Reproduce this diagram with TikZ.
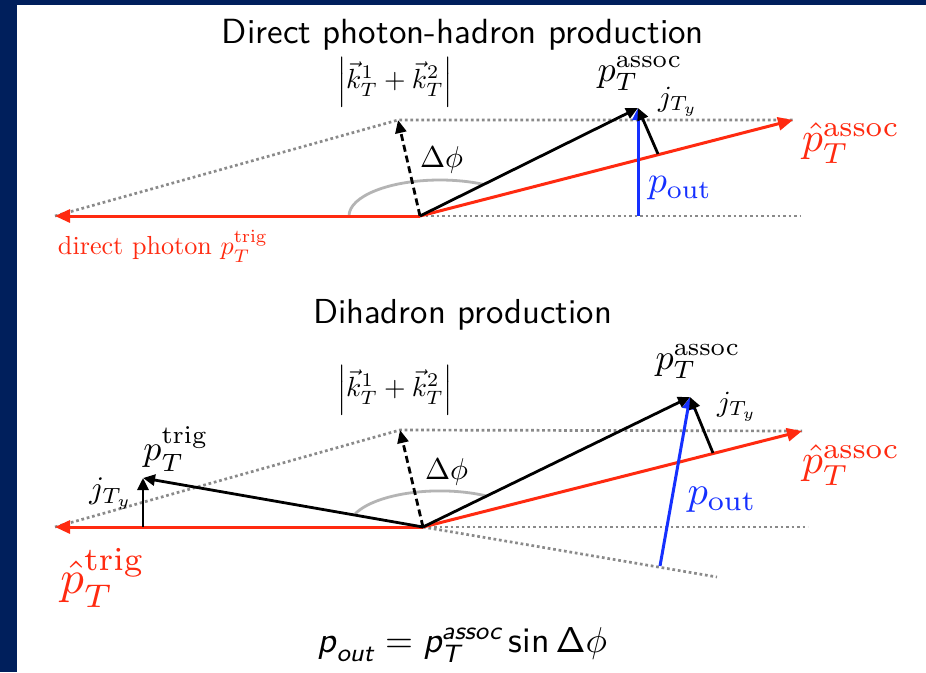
\documentclass[tikz,border=0pt]{standalone}
\usepackage{amsmath}
\usepackage{graphicx}
\usetikzlibrary{arrows.meta}
\definecolor{navy}{HTML}{001F5C}
\definecolor{pred}{HTML}{FF2A10}
\definecolor{pblue}{HTML}{1530FF}
\definecolor{dotgray}{HTML}{8A8A8A}
\definecolor{arcgray}{HTML}{B4B4B4}
\newcommand{\fitw}[2]{\resizebox{#1pt}{!}{#2}}
\begin{document}
\begin{tikzpicture}[x=1pt,y=-1pt,
  redarrow/.style={pred, line width=3pt, -{Triangle[length=15pt,width=13pt]}},
  blkarrow/.style={black, line width=2.8pt, -{Triangle[length=12pt,width=11pt]}},
  bluearrow/.style={pblue, line width=3pt, -{Triangle[length=12pt,width=11pt]}},
  dasharrow/.style={black, line width=2.8pt, dash pattern=on 7pt off 4pt, -{Triangle[length=13pt,width=11pt]}},
  dotline/.style={dotgray, line width=2.7pt, dash pattern=on 2.7pt off 2.8pt},
  arcline/.style={arcgray, line width=2.8pt},
  lab/.style={inner sep=0pt},
]
\fill[navy] (0,0) rectangle (926,672);
\fill[white] (17,5) rectangle (926,672);
\useasboundingbox (0,0) rectangle (926,672);

% ---------------- top diagram ----------------
\coordinate (O1) at (420,216);
\coordinate (trigTip1) at (55,216);
\coordinate (assocTip1) at (793,120);
\coordinate (kTop1) at (398,120);
\coordinate (hR1) at (800,216);
\coordinate (pA1) at (638,108);
\coordinate (pOutB1) at (638,216);
\coordinate (jB1) at (658,154);
\coordinate (arcS1) at (349,216);

\draw[dotline] (trigTip1) -- (kTop1) -- (assocTip1);
\draw[dotline] (O1) -- (hR1);
\draw[arcline] (arcS1) arc[start angle=180, end angle=298, x radius=91, y radius=36];
\draw[redarrow] (O1) -- (trigTip1);
\draw[redarrow] (O1) -- (assocTip1);
\draw[bluearrow] (pOutB1) -- (pA1);
\draw[dasharrow] (O1) -- (kTop1);
\draw[blkarrow] (O1) -- (pA1);
\draw[blkarrow] (jB1) -- (pA1);

\node[lab, anchor=base] (title1) at (463,43) {\fitw{482}{\sffamily Direct photon-hadron production}};
\node[lab] (k1) at (395,82) {\fitw{116}{$\left|\vec{k}_T^1+\vec{k}_T^2\right|$}};
\node[lab] (dphi1) at (441.5,160) {\fitw{43}{$\Delta\phi$}};
\node[lab] (pAlab1) at (640,74) {\fitw{85}{$p_T^{\mathrm{assoc}}$}};
\node[lab] (j1) at (678,102) {\fitw{40}{$j_{T_y}$}};
\node[lab, text=pred] (hatA1) at (851,143) {\fitw{98}{$\hat{p}_T^{\mathrm{assoc}}$}};
\node[lab, text=pblue] (pout1) at (680,188) {\fitw{64}{$p_{\mathrm{out}}$}};
\node[lab, text=pred] (dirph) at (163,246) {\fitw{210}{direct photon $p_T^{\mathrm{trig}}$}};

% ---------------- bottom diagram ----------------
\coordinate (O2) at (423,527);
\coordinate (trigTip2) at (55,527);
\coordinate (assocTip2) at (802,431);
\coordinate (kTop2) at (400,430);
\coordinate (hR2) at (808,527);
\coordinate (lowDot2) at (717,577);
\coordinate (pTrig2) at (143,478);
\coordinate (jTrigB) at (143,527);
\coordinate (pA2) at (690,397);
\coordinate (pOutB2) at (660,566);
\coordinate (jB2) at (713,453);
\coordinate (arcS2) at (355,514);

\draw[dotline] (trigTip2) -- (kTop2) -- (assocTip2);
\draw[dotline] (O2) -- (hR2);
\draw[dotline] (O2) -- (lowDot2);
\draw[arcline] (arcS2) arc[start angle=201, end angle=301, x radius=91, y radius=36];
\draw[redarrow] (O2) -- (trigTip2);
\draw[redarrow] (O2) -- (assocTip2);
\draw[bluearrow] (pOutB2) -- (pA2);
\draw[dasharrow] (O2) -- (kTop2);
\draw[blkarrow] (O2) -- (pTrig2);
\draw[blkarrow] (jTrigB) -- (pTrig2);
\draw[blkarrow] (O2) -- (pA2);
\draw[blkarrow] (jB2) -- (pA2);

\node[lab, anchor=base] (title2) at (462.5,323) {\fitw{299}{\sffamily Dihadron production}};
\node[lab] (k2) at (395,390) {\fitw{116}{$\left|\vec{k}_T^1+\vec{k}_T^2\right|$}};
\node[lab] (dphi2) at (446.5,472) {\fitw{43}{$\Delta\phi$}};
\node[lab] (pTlab2) at (176,449) {\fitw{65}{$p_T^{\mathrm{trig}}$}};
\node[lab] (j2l) at (111,494) {\fitw{43}{$j_{T_y}$}};
\node[lab, text=pred] (hatT2) at (103,578) {\fitw{85}{$\hat{p}_T^{\mathrm{trig}}$}};
\node[lab] (pAlab2) at (698,362) {\fitw{85}{$p_T^{\mathrm{assoc}}$}};
\node[lab] (j2r) at (737,407) {\fitw{40}{$j_{T_y}$}};
\node[lab, text=pred] (hatA2) at (851,465) {\fitw{98}{$\hat{p}_T^{\mathrm{assoc}}$}};
\node[lab, text=pblue] (pout2) at (722,500) {\fitw{69}{$p_{\mathrm{out}}$}};

\node[lab] (formula) at (462.5,645) {\fitw{289}{$\textsf{\itshape p}_{\textsf{\itshape out}} = \textsf{\itshape p}_{\textsf{\itshape T}}^{\textsf{\itshape assoc}}\,\textsf{sin}\,\mathsf{\Delta}\phi$}};
\end{tikzpicture}
\end{document}
